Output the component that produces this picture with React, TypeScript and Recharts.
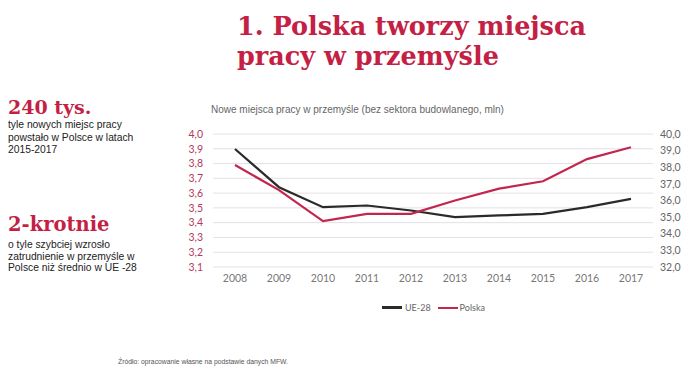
import React from "react";
import { LineChart, Line, XAxis, YAxis, CartesianGrid } from "recharts";

const years = ["2008", "2009", "2010", "2011", "2012", "2013", "2014", "2015", "2016", "2017"];
// UE-28, mln (right axis)
const ue28 = [39.1, 36.8, 35.6, 35.7, 35.4, 35.0, 35.1, 35.2, 35.6, 36.1];
// Polska, mln (left axis)
const polska = [3.79, 3.62, 3.41, 3.46, 3.46, 3.55, 3.63, 3.68, 3.83, 3.91];
const leftTicks = [3.1, 3.2, 3.3, 3.4, 3.5, 3.6, 3.7, 3.8, 3.9, 4.0];
const rightTicks = [32, 33, 34, 35, 36, 37, 38, 39, 40];
const seriesNames = ["UE-28", "Polska"];

const RED = "#c41f45";
const LINE_RED = "#c2264f";
const DARK = "#2a2a2a";

const data = years.map((year, i) => ({ year, ue28: ue28[i], polska: polska[i] }));

const fmt = (v: number) => v.toFixed(1).replace(".", ",");

const serif = "'DejaVu Serif', serif";

export default function App() {
  return (
    <div
      style={{
        position: "absolute",
        left: 0,
        top: 0,
        width: 684,
        height: 373,
        background: "#fff",
        overflow: "hidden",
        fontFamily: "Arial, 'Liberation Sans', sans-serif",
      }}
    >
      {/* Title */}
      <div
        style={{
          position: "absolute",
          left: 237,
          top: 11,
          fontFamily: serif,
          fontWeight: "bold",
          fontSize: 25.5,
          lineHeight: "30px",
          color: RED,
          whiteSpace: "nowrap",
        }}
      >
        1. Polska tworzy miejsca
        <br />
        pracy w przemyśle
      </div>

      {/* Left facts */}
      <div style={{ position: "absolute", left: 8, top: 95, width: 190 }}>
        <div style={{ fontFamily: serif, fontWeight: "bold", fontSize: 19, color: RED, lineHeight: "24px" }}>
          240 tys.
        </div>
        <div style={{ fontSize: 10.3, lineHeight: "12.5px", color: "#222", marginTop: 0 }}>
          tyle nowych miejsc pracy
          <br />
          powstało w Polsce w latach
          <br />
          2015-2017
        </div>
      </div>
      <div style={{ position: "absolute", left: 8, top: 213, width: 190 }}>
        <div style={{ fontFamily: serif, fontWeight: "bold", fontSize: 19.5, color: RED, lineHeight: "24px" }}>
          2-krotnie
        </div>
        <div style={{ fontSize: 10.3, lineHeight: "11.5px", color: "#222", marginTop: 2 }}>
          o tyle szybciej wzrosło
          <br />
          zatrudnienie w przemyśle w
          <br />
          Polsce niż średnio w UE -28
        </div>
      </div>

      {/* Chart subtitle */}
      <div style={{ position: "absolute", left: 211, top: 104, fontSize: 10, color: "#666" }}>
        Nowe miejsca pracy w przemyśle (bez sektora budowlanego, mln)
      </div>

      <div style={{ position: "absolute", left: 0, top: 0 }}>
        <LineChart
          width={684}
          height={373}
          data={data}
          margin={{ top: 134, right: 3, bottom: 76, left: 188 }}
        >
          <CartesianGrid vertical={false} stroke="#e2e2e2" yAxisId="left" />
          <XAxis
            dataKey="year"
            axisLine={false}
            tickLine={false}
            padding={{ left: 22, right: 22 }}
            height={30}
            tick={{ fontSize: 10.5, fill: "#777", fontFamily: "Lato, sans-serif" }}
            tickMargin={2}
          />
          <YAxis
            yAxisId="left"
            orientation="left"
            domain={[3.1, 4.0]}
            ticks={leftTicks}
            interval={0}
            tickFormatter={fmt}
            axisLine={false}
            tickLine={false}
            width={25}
            tick={{ fontSize: 10.5, fill: "#b23a5a", fontFamily: "Lato, sans-serif" }}
            tickMargin={4}
          />
          <YAxis
            yAxisId="right"
            orientation="right"
            domain={[32, 40]}
            ticks={rightTicks}
            interval={0}
            tickFormatter={fmt}
            axisLine={false}
            tickLine={false}
            width={28}
            tickSize={0}
            tick={{ fontSize: 10.5, fill: "#666", fontFamily: "Lato, sans-serif", textAnchor: "start" }}
            tickMargin={7}
          />
          <Line
            yAxisId="right"
            dataKey="ue28"
            name={seriesNames[0]}
            stroke={DARK}
            strokeWidth={2.2}
            dot={false}
            type="linear"
            isAnimationActive={false}
          />
          <Line
            yAxisId="left"
            dataKey="polska"
            name={seriesNames[1]}
            stroke={LINE_RED}
            strokeWidth={2.2}
            dot={false}
            type="linear"
            isAnimationActive={false}
          />
        </LineChart>
      </div>

      {/* Legend */}
      <div
        style={{
          position: "absolute",
          left: 382,
          top: 302,
          display: "flex",
          alignItems: "center",
          fontSize: 9,
          color: "#666",
          fontFamily: "Lato, sans-serif",
        }}
      >
        <span style={{ display: "inline-block", width: 20, height: 3, background: DARK, marginRight: 3 }} />
        <span style={{ marginRight: 7 }}>{seriesNames[0]}</span>
        <span style={{ display: "inline-block", width: 20, height: 2, background: LINE_RED, marginRight: 2 }} />
        <span>{seriesNames[1]}</span>
      </div>

      {/* Source */}
      <div style={{ position: "absolute", left: 118, top: 358, fontSize: 6.8, color: "#555" }}>
        Źródło: opracowanie własne na podstawie danych MFW.
      </div>
    </div>
  );
}
